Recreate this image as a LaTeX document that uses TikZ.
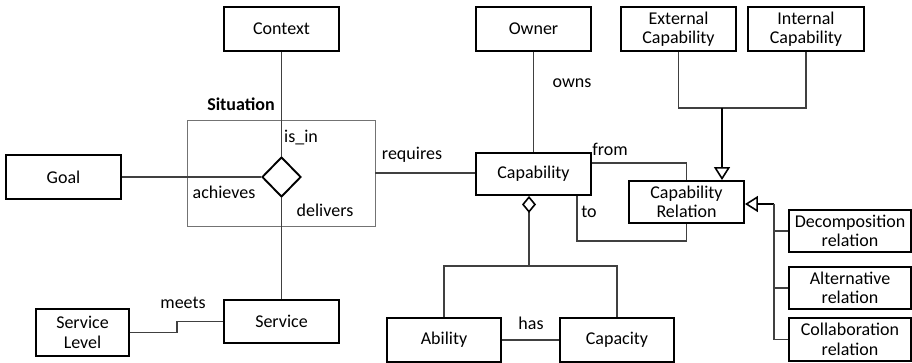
\documentclass[tikz,border=0pt]{standalone}
\usepackage{fontspec}
\setmainfont{Carlito}
\usetikzlibrary{shapes.geometric,arrows.meta,calc}
\begin{document}
\begin{tikzpicture}[x=1pt,y=-1pt,
  font=\fontsize{18}{20.5}\selectfont,
  box/.style={draw=black,line width=1.9pt,fill=white,inner sep=1pt,align=center,minimum width=115pt,minimum height=44pt},
  conn/.style={draw=black!75,line width=1.1pt},
  gen/.style={draw=black,line width=1.3pt,-{Triangle[open,length=13pt,width=16pt,line width=1.6pt]}},
  lbl/.style={inner sep=0pt}
]
\useasboundingbox (0,0) rectangle (912,363);
% situation group
\node[draw=black!55,line width=0.9pt,minimum width=188pt,minimum height=106pt,inner sep=0pt] (sit) at (281,173) {};
\node[lbl,font=\fontsize{18}{20.5}\selectfont\bfseries] (sitlbl) at (241,104) {Situation};
% boxes
\node[box] (ctx) at (281.5,29) {Context};
\node[box] (owner) at (533.5,29) {Owner};
\node[box] (ext) at (678.5,29) {External\\[-1pt]Capability};
\node[box,minimum width=116pt] (int) at (806,29) {Internal\\[-1pt]Capability};
\node[box] (goal) at (63.5,177) {Goal};
\node[box,minimum height=42pt] (cap) at (533.5,174) {Capability};
\node[box,minimum height=42pt] (caprel) at (686.5,202) {Capability\\[-1pt]Relation};
\node[box,minimum width=122pt,minimum height=42pt] (dec) at (850,231) {Decomposition\\[-1pt]relation};
\node[box,minimum width=122pt,minimum height=42pt] (alt) at (850,288) {Alternative\\[-1pt]relation};
\node[box,minimum width=122pt,minimum height=43pt] (col) at (850,339.5) {Collaboration\\[-1pt]relation};
\node[box,minimum height=43pt] (serv) at (281.5,321.5) {Service};
\node[box,minimum width=93pt,minimum height=47pt] (sl) at (82.5,332.5) {Service\\[-1pt]Level};
\node[box,minimum width=114pt] (abil) at (444,340) {Ability};
\node[box,minimum width=114pt] (capa) at (617,340) {Capacity};
% diamond
\node[draw=black,line width=1.9pt,shape=diamond,inner sep=0pt,minimum width=39pt,minimum height=40pt,fill=white] (dia) at (281.5,177) {};
% connectors
\draw[conn] (ctx.south) -- (dia.north);
\draw[conn] (dia.south) -- (serv.north);
\draw[conn] (goal.east) -- (dia.west);
\draw[conn] (sit.east) -- (sit.east -| cap.west);
\coordinate (mk) at (177,333);
\draw[conn] (sl.east) -- (sl.east -| mk) -- (mk |- serv.west) -- (serv.west);
\draw[conn] (owner.south) -- (cap.north);
\draw[conn] ([yshift=11pt]cap.east) -| (caprel.north);
\coordinate (tocorner) at (577,241);
\draw[conn] ([xshift=43.5pt]cap.south) -- (tocorner) -| (caprel.south);
% generalization top
\coordinate (j1) at (722,108);
\draw[conn] (ext.south) |- (j1) -| (int.south);
\draw[gen] (j1) -- (j1 |- caprel.north);
% generalization right
\coordinate (j2) at (774,204);
\draw[gen] (j2) -- ([yshift=-2pt]caprel.east);
\draw[conn] (j2) |- (dec.west);
\draw[conn] (j2) |- (alt.west);
\draw[conn] (j2) |- (col.west);
% aggregation
\coordinate (agg) at (529,266);
\draw[conn] (abil.north) |- (agg) -| (capa.north);
\draw[draw=black!75,line width=1.1pt,{Diamond[open,length=17pt,width=14pt,line width=1.6pt,black]}-] ([xshift=-4.5pt]cap.south) -- (agg);
\draw[conn] (abil.east) -- (capa.west);
% labels
\node[lbl,anchor=west] (isin) at (284,138) {is\_in};
\node[lbl] (ach) at (224,192) {achieves};
\node[lbl] (del) at (325,210) {delivers};
\node[lbl] (req) at (412,155) {requires};
\node[lbl] (meets) at (183,303) {meets};
\node[lbl] (owns) at (572,83) {owns};
\node[lbl] (from) at (610,149) {from};
\node[lbl] (to) at (589,212) {to};
\node[lbl] (has) at (531,323) {has};
\end{tikzpicture}
\end{document}
